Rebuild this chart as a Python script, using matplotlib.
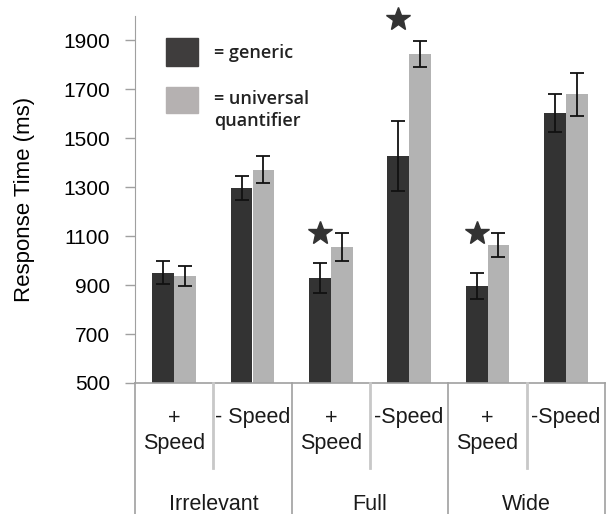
import numpy as np
import matplotlib
matplotlib.use("Agg")
import matplotlib.pyplot as plt
from matplotlib.patches import Rectangle

# response times (ms), one entry per condition
conditions = ["+\nSpeed", "- Speed", "+\nSpeed", "-Speed", "+\nSpeed", "-Speed"]
groups = ["Irrelevant", "Full", "Wide"]
generic_mean = [951, 1296, 930, 1428, 898, 1605]
generic_err = [48, 50, 62, 143, 53, 78]
universal_mean = [938, 1372, 1057, 1843, 1065, 1680]
universal_err = [40, 56, 57, 53, 50, 88]
# significance stars: condition index and height (ms)
star_idx = [2, 3, 4]
star_level = [1114, 1986, 1114]

yticks = [500, 700, 900, 1100, 1300, 1500, 1700, 1900]

DARK = "#333333"
LIGHT = "#b3b3b3"
LINE = "#a0a0a0"

plt.rcParams["font.family"] = ["Liberation Sans", "DejaVu Sans"]

fig = plt.figure(figsize=(6.08, 5.14), dpi=100)
ax = fig.add_axes([135 / 608, 1 - 383 / 514, 470 / 608, 367 / 514])

x = np.arange(len(conditions)) + 0.5
w = 0.28
ax.bar(x - w / 2, np.array(generic_mean) - 500, w, bottom=500, color=DARK)
ax.bar(x + w / 2, np.array(universal_mean) - 500, w, bottom=500, color=LIGHT)
ax.errorbar(x - w / 2, generic_mean, yerr=generic_err, fmt="none",
            ecolor="#111111", elinewidth=1.3, capsize=5, capthick=1.3)
ax.errorbar(x + w / 2, universal_mean, yerr=universal_err, fmt="none",
            ecolor="#111111", elinewidth=1.3, capsize=5, capthick=1.3)
ax.plot([x[i] - w / 2 for i in star_idx], star_level, linestyle="none",
        marker="*", markersize=18, color=DARK, clip_on=False)

ax.set_xlim(0, len(conditions))
ax.set_ylim(500, 2000)
ax.set_yticks(yticks)
ax.tick_params(axis="y", labelsize=15, color=LINE, length=7, width=1, pad=11)
ax.tick_params(axis="x", bottom=False, labelbottom=False)
for s in ["top", "right", "bottom"]:
    ax.spines[s].set_visible(False)
ax.spines["left"].set_color(LINE)
ax.set_ylabel("Response Time (ms)", fontsize=16, labelpad=20)

# category table below the axis
tr = ax.get_xaxis_transform()
row1 = -85 / 367
fig_bottom = -131 / 367
ax.plot([0, len(conditions)], [0, 0], color=LINE, lw=1.2, transform=tr, clip_on=False)
for b in range(0, len(conditions) + 1, 2):
    ax.plot([b, b], [0, fig_bottom], color=LINE, lw=1.2, transform=tr, clip_on=False)
for b in range(1, len(conditions), 2):
    ax.plot([b, b], [0, row1], color="#c8c8c8", lw=2, transform=tr, clip_on=False)
for i, lab in enumerate(conditions):
    lines = lab.split("\n")
    for k, part in enumerate(lines):
        ax.text(x[i], (-35 - 25 * k) / 367, part, transform=tr, ha="center",
                va="center", fontsize=15.5, color="#1a1a1a")
for g, name in enumerate(groups):
    ax.text(2 * g + 1, -122 / 367, name, transform=tr, ha="center", va="center",
            fontsize=15.5, color="#1a1a1a")

# legend
fig.patches.append(Rectangle((166 / 608, 1 - 66 / 514), 32 / 608, 28 / 514,
                             transform=fig.transFigure, color="#3f3d3d"))
fig.patches.append(Rectangle((166 / 608, 1 - 113 / 514), 32 / 608, 26 / 514,
                             transform=fig.transFigure, color="#b5b1b1"))
fig.text(214 / 608, 1 - 53 / 514, "= generic", fontsize=13, va="center",
         family=["Open Sans", "DejaVu Sans"], weight="semibold", color="#222222")
fig.text(214 / 608, 1 - 110 / 514, "= universal\nquantifier", fontsize=13,
         va="center", linespacing=1.25, family=["Open Sans", "DejaVu Sans"],
         weight="semibold", color="#222222")

fig.savefig("out.png", dpi=100)
